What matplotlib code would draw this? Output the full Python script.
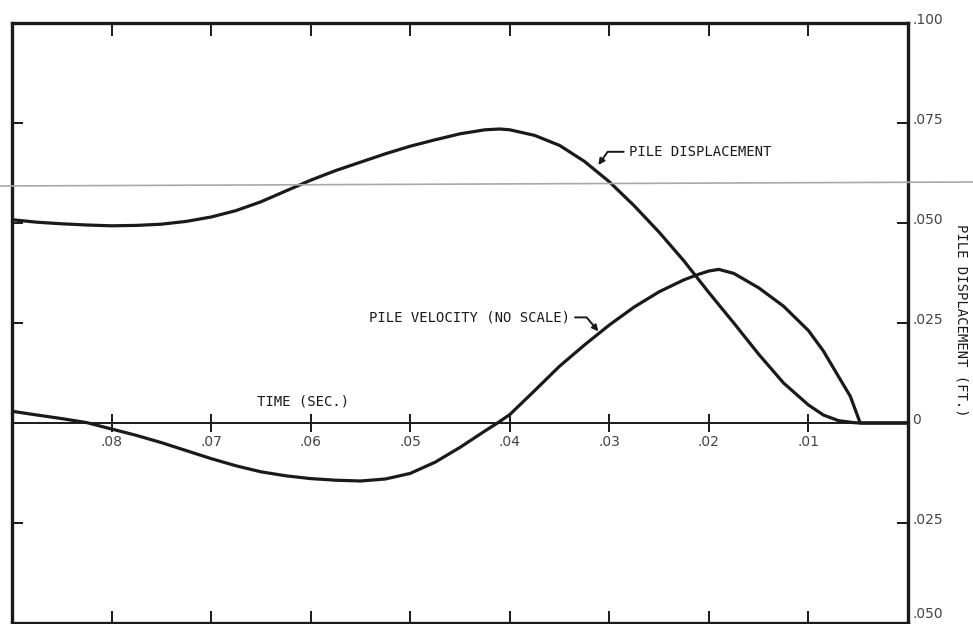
import matplotlib.pyplot as plt
from matplotlib.lines import Line2D
from matplotlib.transforms import ScaledTranslation

# pile displacement (ft) vs time (sec)
t_disp = [0.0899, 0.0875, 0.0850, 0.0825, 0.0800, 0.0775, 0.0750, 0.0725, 0.0700,
          0.0675, 0.0650, 0.0625, 0.0600, 0.0575, 0.0550, 0.0525, 0.0500, 0.0475,
          0.0450, 0.0425, 0.0410, 0.0400, 0.0375, 0.0350, 0.0325, 0.0300, 0.0275,
          0.0250, 0.0225, 0.0200, 0.0175, 0.0150, 0.0125, 0.0100, 0.0085, 0.0070,
          0.0055, 0.0048, 0.0]
disp = [0.0508, 0.0502, 0.0498, 0.0495, 0.0493, 0.0494, 0.0497, 0.0504, 0.0515,
        0.0531, 0.0553, 0.0580, 0.0607, 0.0631, 0.0652, 0.0673, 0.0692, 0.0708,
        0.0723, 0.0733, 0.0735, 0.0733, 0.0719, 0.0694, 0.0654, 0.0603, 0.0543,
        0.0477, 0.0405, 0.0326, 0.0250, 0.0172, 0.0100, 0.0045, 0.0020, 0.0006,
        0.0001, 0.0, 0.0]

# pile velocity (no scale), drawn on the same axis
t_vel = [0.0899, 0.0875, 0.0850, 0.0825, 0.0800, 0.0775, 0.0750, 0.0725, 0.0700,
         0.0675, 0.0650, 0.0625, 0.0600, 0.0575, 0.0550, 0.0525, 0.0500, 0.0475,
         0.0450, 0.0425, 0.0413, 0.0400, 0.0375, 0.0350, 0.0325, 0.0300, 0.0275,
         0.0250, 0.0225, 0.0210, 0.0200, 0.0190, 0.0175, 0.0150, 0.0125, 0.0100,
         0.0085, 0.0070, 0.0058, 0.0048, 0.0]
vel = [0.0029, 0.0020, 0.0011, 0.0001, -0.0015, -0.0031, -0.0049, -0.0069, -0.0089,
       -0.0107, -0.0122, -0.0132, -0.0139, -0.0143, -0.0145, -0.0140, -0.0126, -0.0098,
       -0.0061, -0.0020, -0.0001, 0.0021, 0.0081, 0.0142, 0.0195, 0.0245, 0.0290,
       0.0328, 0.0358, 0.0372, 0.0380, 0.0384, 0.0374, 0.0338, 0.0292, 0.0231,
       0.0180, 0.0117, 0.0067, 0.0, 0.0]

time_ticks = [0.08, 0.07, 0.06, 0.05, 0.04, 0.03, 0.02, 0.01]
time_labels = ['.08', '.07', '.06', '.05', '.04', '.03', '.02', '.01']
disp_ticks = [0.1, 0.075, 0.05, 0.025, 0.0, -0.025, -0.05]
disp_labels = ['.100', '.075', '.050', '.025', '0', '.025', '.050']

mono = 'DejaVu Sans Mono'
ink = '#1a1a1a'

fig = plt.figure(figsize=(9.73, 6.24), dpi=100)
ax = fig.add_axes([12 / 973, 1 / 624, 896 / 973, 600 / 624])

ax.plot(t_disp, disp, color=ink, lw=2.3, solid_capstyle='round', solid_joinstyle='round')
ax.plot(t_vel, vel, color=ink, lw=2.3, solid_capstyle='round', solid_joinstyle='round')

# time axis drawn through zero
ax.axhline(0, color=ink, lw=1.4)
ax.vlines(time_ticks, -0.0022, 0.0022, color=ink, lw=1.4)
for tv, lab in zip(time_ticks, time_labels):
    ax.text(tv, -0.0048, lab, ha='center', va='center', fontsize=10, color='#444444')
ax.text(0.0608, 0.0054, 'TIME (SEC.)', family=mono, fontsize=10, ha='center',
        va='center', color=ink)

ax.set_xlim(0.09, 0)
ax.set_ylim(-0.05, 0.1)

ax.set_xticks(time_ticks)
ax.tick_params(axis='x', direction='in', top=True, bottom=True, labelbottom=False,
               length=9, width=1.4, color=ink)
ax.set_yticks(disp_ticks)
ax.set_yticklabels(disp_labels)
ax.tick_params(axis='y', direction='in', left=True, right=True, labelleft=False,
               labelright=True, length=8, width=1.4, color=ink, pad=3,
               labelsize=10, labelcolor='#444444')
labels = ax.get_yticklabels()
for i, lbl in enumerate(labels):
    up = 10 if i == len(labels) - 1 else 5
    lbl.set_transform(lbl.get_transform() + ScaledTranslation(0, up / 100, fig.dpi_scale_trans))

for s in ax.spines.values():
    s.set_linewidth(2.4)
    s.set_color(ink)

ax.text(1.06, 0.505, 'PILE DISPLACEMENT (FT.)', transform=ax.transAxes, rotation=-90,
        ha='center', va='center', family=mono, fontsize=10, color=ink)

ax.annotate('PILE DISPLACEMENT', xy=(0.0311, 0.0645), xytext=(0.0280, 0.0678),
            family=mono, fontsize=10, ha='left', va='center', color=ink,
            arrowprops=dict(arrowstyle='-|>', color=ink, lw=1.4, mutation_scale=9,
                            shrinkA=2, shrinkB=0,
                            connectionstyle='angle,angleA=0,angleB=55,rad=0'))
ax.annotate('PILE VELOCITY (NO SCALE)', xy=(0.0311, 0.0229), xytext=(0.0340, 0.0264),
            family=mono, fontsize=10, ha='right', va='center', color=ink,
            arrowprops=dict(arrowstyle='-|>', color=ink, lw=1.4, mutation_scale=9,
                            shrinkA=2, shrinkB=0,
                            connectionstyle='angle,angleA=0,angleB=-50,rad=0'))

# faint scan line across the sheet
fig.add_artist(Line2D([0, 1], [1 - 186 / 624, 1 - 182 / 624], color='#a8a8a8', lw=1.2,
                      transform=fig.transFigure))

fig.savefig('out.png', dpi=100)
